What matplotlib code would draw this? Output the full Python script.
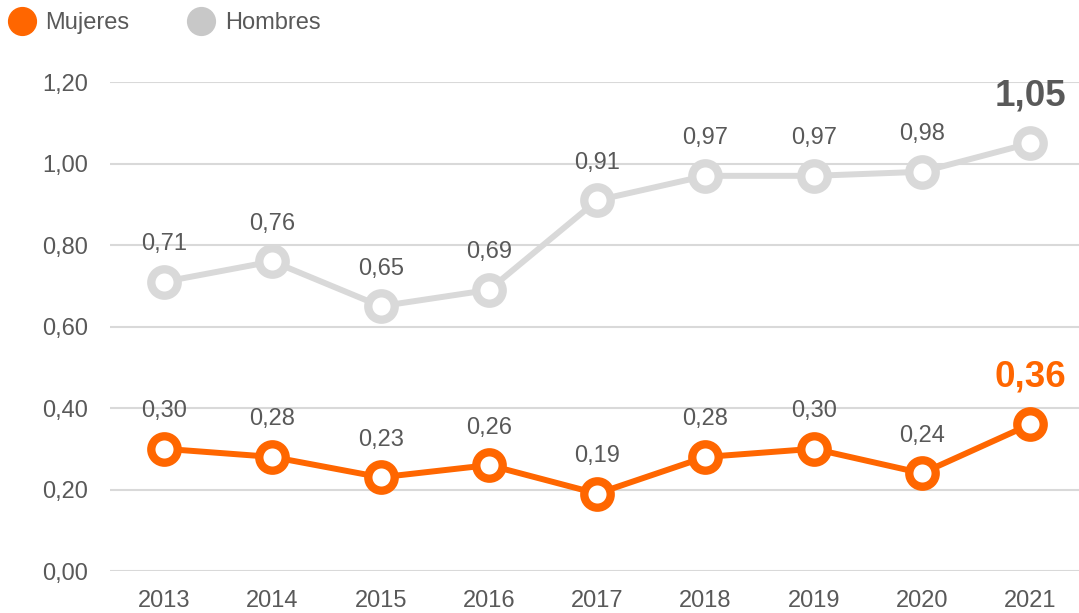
import numpy as np
import matplotlib.pyplot as plt

YEARS    = ["2013", "2014", "2015", "2016", "2017", "2018", "2019", "2020", "2021"]
MUJERES  = [0.30, 0.28, 0.23, 0.26, 0.19, 0.28, 0.30, 0.24, 0.36]
HOMBRES  = [0.71, 0.76, 0.65, 0.69, 0.91, 0.97, 0.97, 0.98, 1.05]
Y_TICKS  = [0.0, 0.2, 0.4, 0.6, 0.8, 1.0, 1.2]

ORANGE   = "#ff6600"
GRAY     = "#d9d9d9"
TXT      = "#595959"

plt.rcParams['font.family'] = ['Liberation Sans', 'DejaVu Sans']

def fmt(v): return f"{v:.2f}".replace(".", ",")

fig = plt.figure(figsize=(10.79, 6.13), dpi=100)
ax = fig.add_axes([0.102, 0.0685, 0.898, 0.7975])
x = np.arange(len(YEARS))

for vals, col, lastcol in [(HOMBRES, GRAY, "#595959"), (MUJERES, ORANGE, ORANGE)]:
    ax.plot(x, vals, color=col, lw=4.3, marker="o", ms=19, mfc="white",
            mec=col, mew=6, zorder=3, clip_on=False)
    for i, v in enumerate(vals):
        if i == len(vals) - 1:
            ax.annotate(fmt(v), (x[i], v), xytext=(0, 34), textcoords="offset points",
                        ha="center", va="center", fontsize=26.5, fontweight="bold",
                        color=lastcol, annotation_clip=False)
        else:
            ax.annotate(fmt(v), (x[i], v), xytext=(0, 27), textcoords="offset points",
                        ha="center", va="center", fontsize=17, color=TXT,
                        annotation_clip=False)

ax.set_xlim(-0.5, 8.45)
ax.set_ylim(0, 1.2)
ax.set_yticks(Y_TICKS)
ax.set_yticklabels([fmt(v) for v in Y_TICKS])
ax.set_xticks(x)
ax.set_xticklabels(YEARS)
ax.tick_params(length=0, labelsize=17, labelcolor=TXT)
ax.tick_params(axis="y", pad=16)
ax.tick_params(axis="x", pad=14)
ax.grid(axis="y", color=GRAY, lw=1.5)
ax.set_axisbelow(True)
for s in ax.spines.values():
    s.set_visible(False)

# legend
fig.lines.append(plt.Line2D([22/1079], [1 - 21/613], transform=fig.transFigure,
                            marker="o", ms=20, color=ORANGE, lw=0))
fig.text(45/1079, 1 - 23/613, "Mujeres", fontsize=17, color=TXT, va="center")
fig.lines.append(plt.Line2D([201/1079], [1 - 21/613], transform=fig.transFigure,
                            marker="o", ms=20, color="#c8c8c8", lw=0))
fig.text(225/1079, 1 - 23/613, "Hombres", fontsize=17, color=TXT, va="center")

fig.savefig("out.png", dpi=100)
